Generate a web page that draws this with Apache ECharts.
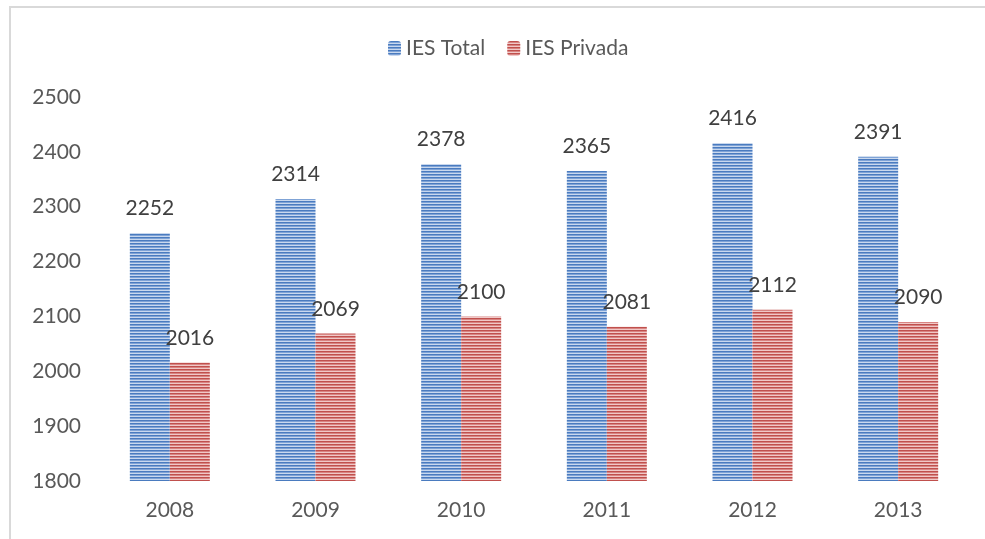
<!DOCTYPE html>
<html>
<head>
<meta charset="utf-8">
<script src="https://cdn.jsdelivr.net/npm/echarts@6/dist/echarts.min.js"></script>
<style>
  html, body { margin: 0; padding: 0; background: #fff; }
  #chart { width: 985px; height: 539px; }
</style>
</head>
<body>
<div id="chart"></div>
<script>
const years = ['2008', '2009', '2010', '2011', '2012', '2013'];
const iesTotal = [2252, 2314, 2378, 2365, 2416, 2391];
const iesPrivada = [2016, 2069, 2100, 2081, 2112, 2090];

// horizontal stripe fill, like the original bars
function stripes(dark, mid, light) {
  let c = document.createElement('canvas');
  c.width = 4;
  c.height = 3;
  let ctx = c.getContext('2d');
  ctx.fillStyle = dark;
  ctx.fillRect(0, 0, 4, 1);
  ctx.fillStyle = mid;
  ctx.fillRect(0, 1, 4, 1);
  ctx.fillStyle = light;
  ctx.fillRect(0, 2, 4, 1);
  return { image: c, repeat: 'repeat' };
}

const font = 'Lato';
let chart = echarts.init(document.getElementById('chart'));
let option = {
  textStyle: { fontFamily: font },
  graphic: [{
    type: 'polyline',
    shape: { points: [[10, 539], [10, 7], [985, 7]] },
    style: { stroke: '#d9d9d9', lineWidth: 2, fill: null }
  }],
  legend: {
    top: 33,
    left: 383,
    itemWidth: 13,
    itemHeight: 15,
    itemGap: 22,
    textStyle: { color: '#595959', fontSize: 21, fontFamily: font },
    data: ['IES Total', 'IES Privada']
  },
  grid: { left: 97, right: 14, top: 97, bottom: 58 },
  xAxis: {
    type: 'category',
    data: years,
    axisLine: { show: false },
    axisTick: { show: false },
    axisLabel: { color: '#595959', fontSize: 21, margin: 19 }
  },
  yAxis: {
    type: 'value',
    min: 1800,
    max: 2500,
    interval: 100,
    splitLine: { show: false },
    axisLine: { show: false },
    axisTick: { show: false },
    axisLabel: { color: '#595959', fontSize: 21, margin: 16, formatter: v => String(v) }
  },
  series: [
    {
      name: 'IES Total',
      type: 'bar',
      barWidth: 40,
      barGap: '0%',
      data: iesTotal,
      itemStyle: { color: stripes('#4a7bbf', '#7fa3d6', '#c9d8ee') },
      label: { show: true, position: 'top', distance: 14, color: '#404040', fontSize: 21 }
    },
    {
      name: 'IES Privada',
      type: 'bar',
      barWidth: 40,
      data: iesPrivada,
      itemStyle: { color: stripes('#c0504d', '#d88482', '#f0c8c7') },
      label: { show: true, position: 'top', distance: 14, color: '#404040', fontSize: 21 }
    }
  ]
};
chart.setOption(option);
</script>
</body>
</html>
